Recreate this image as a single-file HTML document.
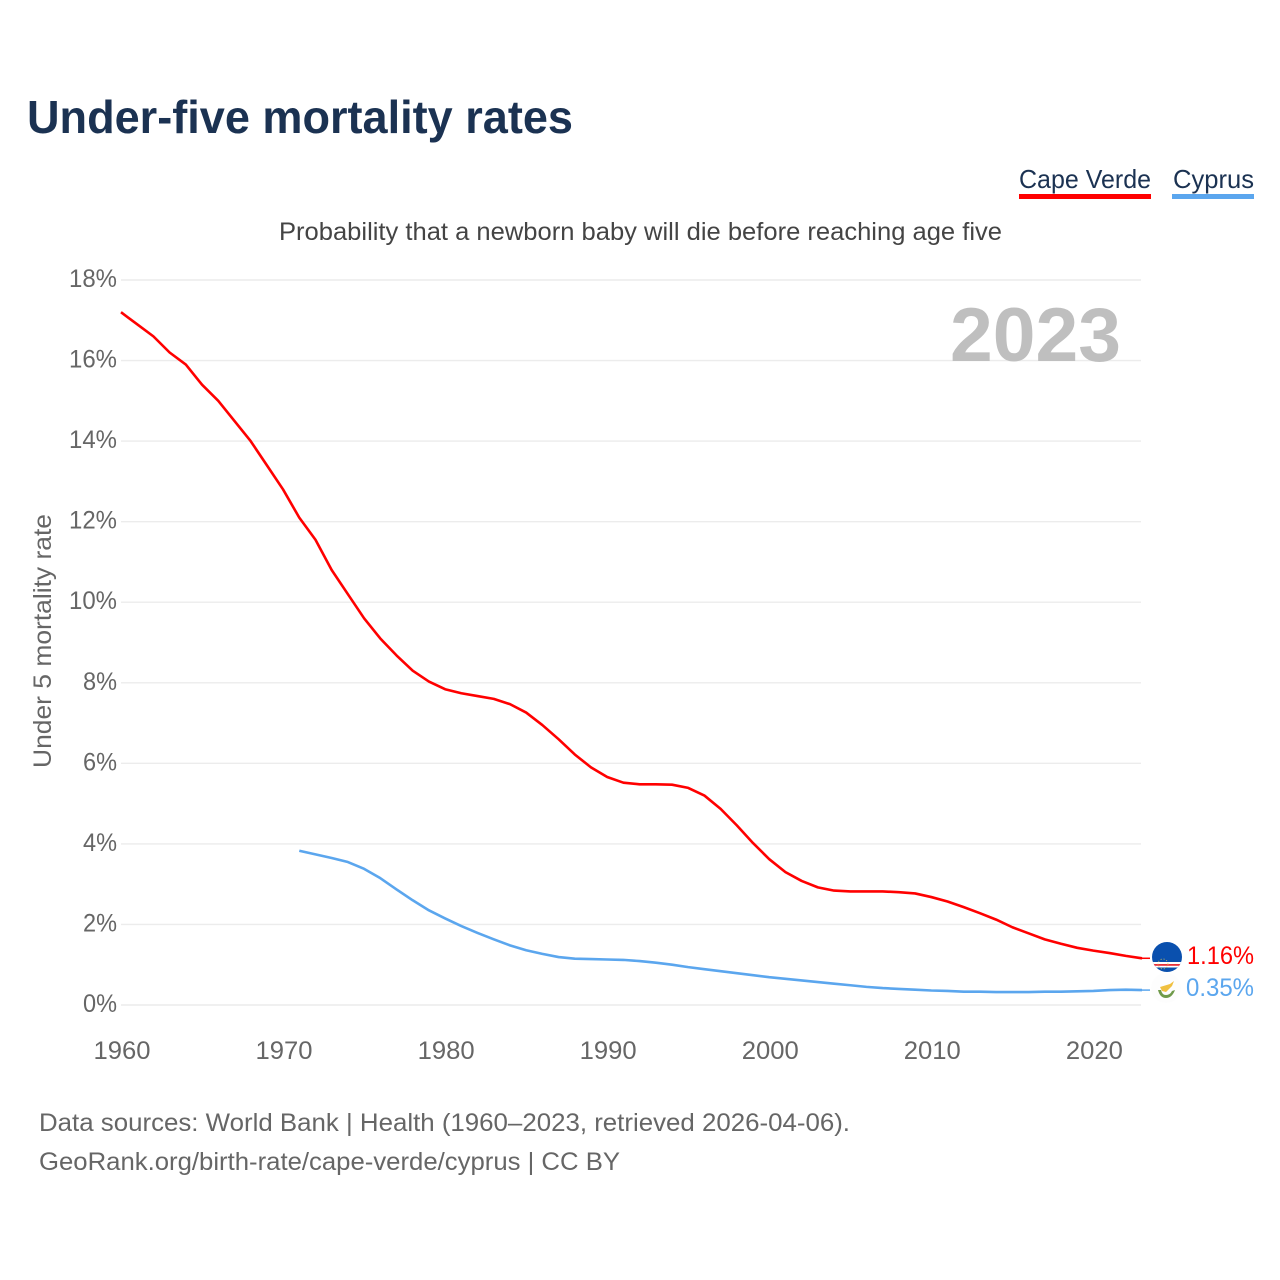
<!DOCTYPE html>
<html lang="en">
<head>
<meta charset="utf-8">
<title>Under-five mortality rates</title>
<style>
html,body{margin:0;padding:0;background:#fff;}
svg{display:block;font-family:"Liberation Sans",sans-serif;}
</style>
</head>
<body>
<svg id="chart" xmlns="http://www.w3.org/2000/svg" width="1280" height="1280" viewBox="0 0 1280 1280">
  <rect x="0" y="0" width="1280" height="1280" fill="#ffffff"/>
  <text x="27" y="133" font-size="46" font-weight="700" fill="#1b3252" textLength="546" lengthAdjust="spacingAndGlyphs">Under-five mortality rates</text>

  <g>
    <text x="1019" y="188" font-size="26" fill="#1b3252" textLength="132" lengthAdjust="spacingAndGlyphs">Cape Verde</text>
    <rect x="1019" y="194" width="132" height="5" fill="#ff0000"/>
  </g>
  <g>
    <text x="1173" y="188" font-size="26" fill="#1b3252" textLength="81" lengthAdjust="spacingAndGlyphs">Cyprus</text>
    <rect x="1172" y="194" width="82" height="5" fill="#5ba6ee"/>
  </g>

  <text x="279" y="240" font-size="25" fill="#444444" textLength="723" lengthAdjust="spacingAndGlyphs">Probability that a newborn baby will die before reaching age five</text>
  <text transform="translate(51,768) rotate(-90)" font-size="25" fill="#666666" textLength="254" lengthAdjust="spacingAndGlyphs">Under 5 mortality rate</text>

  <g id="grid"></g>
  <g id="yticks"></g>
  <g id="xticks"></g>

  <text x="950" y="361" font-size="76" font-weight="700" fill="#bfbfbf" textLength="171" lengthAdjust="spacingAndGlyphs">2023</text>

  <path id="line-cv" fill="none" stroke="#ff0000" stroke-width="2.6" stroke-linejoin="round"/>
  <path id="line-cy" fill="none" stroke="#5ba6ee" stroke-width="2.6" stroke-linejoin="round"/>
  <line id="lead-cv" stroke="#ff0000" stroke-width="1.5"/>
  <line id="lead-cy" stroke="#5ba6ee" stroke-width="1.5"/>

  <defs>
    <clipPath id="clip-cv"><circle cx="1167" cy="957" r="15"/></clipPath>
    <clipPath id="clip-cy"><circle cx="1166" cy="988" r="15"/></clipPath>
  </defs>
  <g clip-path="url(#clip-cv)">
    <rect x="1150" y="940" width="34" height="34" fill="#0a50ae"/>
    <rect x="1150" y="962" width="34" height="5.5" fill="#ffffff"/>
    <rect x="1150" y="964" width="34" height="1.8" fill="#e8303a"/>
    <circle cx="1163" cy="964" r="5" fill="none" stroke="#e3c84a" stroke-width="0.8" stroke-dasharray="1 2"/>
  </g>
  <g clip-path="url(#clip-cy)">
    <circle cx="1166" cy="988" r="15" fill="#fdfdfd"/>
    <path d="M1160 987 L1170 984 L1174 981 L1172 986 L1166 992 L1162 991 Z" fill="#f0c040"/>
    <path d="M1158 990 Q1160 998 1166 998 Q1172 998 1175 990 L1172 991 Q1170 995 1166 995 Q1162 995 1161 990 Z" fill="#6f9a4a"/>
  </g>

  <text id="value-cv" x="1187" y="964" font-size="25" fill="#ff0000" textLength="67" lengthAdjust="spacingAndGlyphs">1.16%</text>
  <text id="value-cy" x="1186" y="996" font-size="25" fill="#5ba6ee" textLength="68" lengthAdjust="spacingAndGlyphs">0.35%</text>

  <text x="39" y="1131" font-size="25" fill="#666666" textLength="811" lengthAdjust="spacingAndGlyphs">Data sources: World Bank | Health (1960–2023, retrieved 2026-04-06).</text>
  <text x="39" y="1170" font-size="25" fill="#666666" textLength="581" lengthAdjust="spacingAndGlyphs">GeoRank.org/birth-rate/cape-verde/cyprus | CC BY</text>
</svg>
<script>
const capeVerdeStart = 1960;
const capeVerdeValues = [17.2,16.9,16.6,16.2,15.9,15.4,15.0,14.5,14.0,13.4,12.8,12.1,11.55,10.8,10.2,9.6,9.1,8.68,8.3,8.03,7.84,7.74,7.67,7.6,7.47,7.26,6.95,6.6,6.22,5.9,5.66,5.52,5.48,5.48,5.47,5.39,5.2,4.87,4.46,4.02,3.62,3.3,3.08,2.92,2.84,2.82,2.82,2.82,2.8,2.77,2.68,2.57,2.43,2.28,2.12,1.93,1.78,1.63,1.52,1.42,1.35,1.29,1.22,1.16];
const cyprusStart = 1971;
const cyprusValues = [3.83,3.74,3.65,3.55,3.38,3.15,2.87,2.6,2.35,2.15,1.96,1.79,1.63,1.48,1.36,1.27,1.19,1.15,1.14,1.13,1.12,1.09,1.05,1.0,0.94,0.89,0.84,0.79,0.74,0.69,0.65,0.61,0.57,0.53,0.49,0.45,0.42,0.4,0.38,0.36,0.35,0.33,0.33,0.32,0.32,0.32,0.33,0.33,0.34,0.35,0.37,0.38,0.37];
const yTicks = [0,2,4,6,8,10,12,14,16,18];
const xTicks = [1960,1970,1980,1990,2000,2010,2020];

const NS = 'http://www.w3.org/2000/svg';
function xScale(year){ return 121 + (year - 1960) * (1142 - 121) / 63; }
function yScale(v){ return 1005 - v * (1005 - 280) / 18; }
function linePath(start, values){
  return values.map(function(v, i){
    return (i ? 'L' : 'M') + xScale(start + i).toFixed(2) + ' ' + yScale(v).toFixed(2);
  }).join(' ');
}

const grid = document.getElementById('grid');
const yG = document.getElementById('yticks');
const xG = document.getElementById('xticks');

yTicks.forEach(function(t){
  const l = document.createElementNS(NS, 'line');
  
  
  l.setAttribute('x1', 121);
  l.setAttribute('x2', 1141);
  l.setAttribute('y1', yScale(t));
  l.setAttribute('y2', yScale(t));
  l.setAttribute('stroke', '#ececec');
  l.setAttribute('stroke-width', '1.4');
  grid.appendChild(l);

  const s = document.createElementNS(NS, 'text');
  
  
  const label = t + '%';
  s.setAttribute('x', 117 - (label.length === 3 ? 48 : 34));
  s.setAttribute('y', yScale(t) + 7);
  s.setAttribute('font-size', '25');
  s.setAttribute('fill', '#666666');
  s.setAttribute('textLength', label.length === 3 ? 48 : 34);
  s.setAttribute('lengthAdjust', 'spacingAndGlyphs');
  s.textContent = label;
  yG.appendChild(s);
});

xTicks.forEach(function(t){
  const s = document.createElementNS(NS, 'text');
  
  
  s.setAttribute('x', xScale(t) - 27.5);
  s.setAttribute('y', 1059);
  s.setAttribute('font-size', '25');
  s.setAttribute('fill', '#666666');
  s.setAttribute('textLength', 57);
  s.setAttribute('lengthAdjust', 'spacingAndGlyphs');
  s.textContent = t;
  xG.appendChild(s);
});

document.getElementById('line-cv').setAttribute('d', linePath(capeVerdeStart, capeVerdeValues));
document.getElementById('line-cy').setAttribute('d', linePath(cyprusStart, cyprusValues));

function setLead(id, v){
  const el = document.getElementById(id);
  el.setAttribute('x1', 1141);
  el.setAttribute('x2', 1150);
  el.setAttribute('y1', yScale(v));
  el.setAttribute('y2', yScale(v));
}
setLead('lead-cv', capeVerdeValues[capeVerdeValues.length - 1]);
setLead('lead-cy', cyprusValues[cyprusValues.length - 1]);
</script>
</body>
</html>
